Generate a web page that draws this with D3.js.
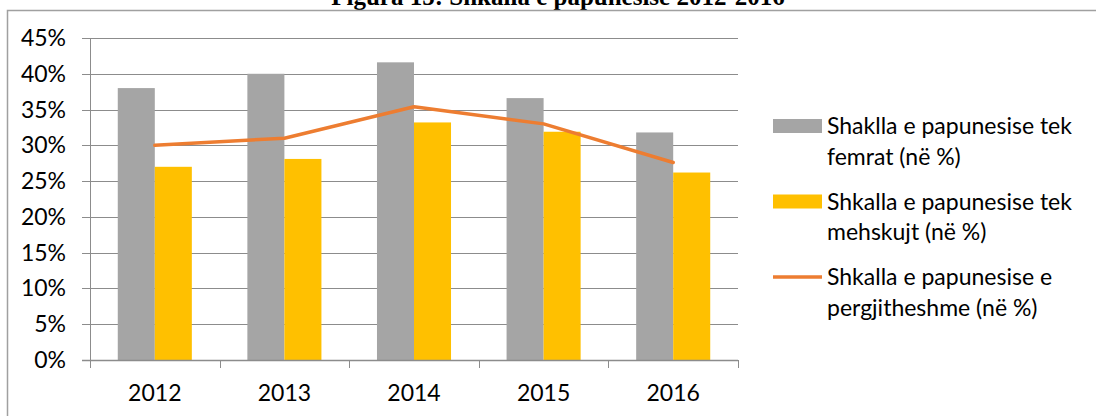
<!DOCTYPE html>
<html>
<head>
<meta charset="utf-8">
<script src="https://cdn.jsdelivr.net/npm/d3@7"></script>
<style>
  html, body { margin: 0; padding: 0; background: #fff; }
  svg { display: block; }
  .lbl { font-family: Lato, "Noto Sans", sans-serif; font-size: 23px; fill: #000; }
</style>
</head>
<body>
<div id="chart"></div>
<script>
// data (percent)
var years = ["2012", "2013", "2014", "2015", "2016"];
var femrat = [38.0, 40.0, 41.6, 36.6, 31.8];
var meshkujt = [27.0, 28.1, 33.2, 31.9, 26.2];
var gjithsej = [30.0, 31.0, 35.4, 33.0, 27.6];
var yTicks = [0, 5, 10, 15, 20, 25, 30, 35, 40, 45];
var legendLines = [
  ["Shaklla e papunesise tek", "femrat (në %)"],
  ["Shkalla e papunesise tek", "mehskujt (në %)"],
  ["Shkalla e papunesise e", "pergjitheshme (në %)"]
];
var title = "Figura 15: Shkalla e papunesise 2012-2016";

var W = 1096, H = 416;
var colors = { gray: "#a5a5a5", yellow: "#ffc000", orange: "#ed7d31" };

var svg = d3.select("#chart").append("svg")
    .attr("width", W)
    .attr("height", H);

// title, cut by the top of the picture (as in the reference)
svg.append("text")
    .attr("x", 558)
    .attr("y", 5)
    .attr("text-anchor", "middle")
    .style("font-family", "'Liberation Serif', 'Times New Roman', serif")
    .style("font-weight", "bold")
    .style("font-size", "25px")
    .text(title);

// chart frame
svg.append("rect")
    .attr("x", 7.5).attr("y", 10.5)
    .attr("width", W + 20).attr("height", H + 20)
    .attr("fill", "none")
    .attr("stroke", "#a0a0a0")
    .attr("stroke-width", 1.5);

var x = d3.scaleBand().domain(years).range([90, 738]).padding(0);
var y = d3.scaleLinear().domain([0, 45]).range([360, 38]);
var barW = x.bandwidth() / 3.5;

var g = svg.append("g");

// gridlines + outside ticks
g.selectAll(".grid")
    .data(yTicks)
    .enter().append("line")
      .attr("x1", 82).attr("x2", 738)
      .attr("y1", function(d) { return Math.round(y(d)) + 0.5; })
      .attr("y2", function(d) { return Math.round(y(d)) + 0.5; })
      .attr("stroke", "#8c8c8c")
      .attr("stroke-width", 1);

// y labels
g.selectAll(".ylab")
    .data(yTicks)
    .enter().append("text")
      .attr("class", "lbl")
      .attr("x", 66)
      .attr("y", function(d) { return y(d); })
      .attr("dy", "0.35em")
      .attr("text-anchor", "end")
      .text(function(d) { return d + "%"; });

// bars
g.selectAll(".bf")
    .data(years)
    .enter().append("rect")
      .attr("x", function(d) { return x(d) + x.bandwidth() / 2 - barW; })
      .attr("y", function(d, i) { return y(femrat[i]); })
      .attr("width", barW)
      .attr("height", function(d, i) { return y(0) - y(femrat[i]); })
      .attr("fill", colors.gray);

g.selectAll(".bm")
    .data(years)
    .enter().append("rect")
      .attr("x", function(d) { return x(d) + x.bandwidth() / 2; })
      .attr("y", function(d, i) { return y(meshkujt[i]); })
      .attr("width", barW)
      .attr("height", function(d, i) { return y(0) - y(meshkujt[i]); })
      .attr("fill", colors.yellow);

// axes lines
g.append("line")
    .attr("x1", 90.5).attr("x2", 90.5)
    .attr("y1", 38).attr("y2", 360)
    .attr("stroke", "#8c8c8c");
g.append("line")
    .attr("x1", 82).attr("x2", 738)
    .attr("y1", 360.5).attr("y2", 360.5)
    .attr("stroke", "#8c8c8c")
    .attr("stroke-width", 1.5);

var bounds = years.map(function(d) { return x(d); }).concat([x.range()[1]]);
g.selectAll(".xt")
    .data(bounds)
    .enter().append("line")
      .attr("x1", function(d) { return Math.round(d) + 0.5; })
      .attr("x2", function(d) { return Math.round(d) + 0.5; })
      .attr("y1", 360).attr("y2", 368)
      .attr("stroke", "#8c8c8c");

// x labels
g.selectAll(".xlab")
    .data(years)
    .enter().append("text")
      .attr("class", "lbl")
      .attr("x", function(d) { return x(d) + x.bandwidth() / 2; })
      .attr("y", 393)
      .attr("dy", "0.35em")
      .attr("text-anchor", "middle")
      .text(function(d) { return d; });

// total line
var line = d3.line()
    .x(function(d, i) { return x(years[i]) + x.bandwidth() / 2; })
    .y(function(d) { return y(d); });

g.append("path")
    .datum(gjithsej)
    .attr("d", line)
    .attr("fill", "none")
    .attr("stroke", colors.orange)
    .attr("stroke-width", 3.5)
    .attr("stroke-linejoin", "round")
    .attr("stroke-linecap", "round");

// legend
var legY = [126, 201.5, 277];
var leg = svg.selectAll(".legend")
    .data(legendLines)
    .enter().append("g")
      .attr("transform", function(d, i) { return "translate(0," + legY[i] + ")"; });

leg.each(function(d, i) {
  var el = d3.select(this);
  if (i < 2) {
    el.append("rect")
      .attr("x", 773).attr("y", -7)
      .attr("width", 49).attr("height", 14)
      .attr("fill", i == 0 ? colors.gray : colors.yellow);
  } else {
    el.append("line")
      .attr("x1", 773).attr("x2", 822)
      .attr("y1", 0).attr("y2", 0)
      .attr("stroke", colors.orange)
      .attr("stroke-width", 3.5);
  }
  el.selectAll("text")
    .data(d)
    .enter().append("text")
      .attr("class", "lbl")
      .attr("x", 827)
      .attr("y", function(t, j) { return j * 30.5; })
      .attr("dy", "0.35em")
      .text(function(t) { return t; });
});
</script>
</body>
</html>
